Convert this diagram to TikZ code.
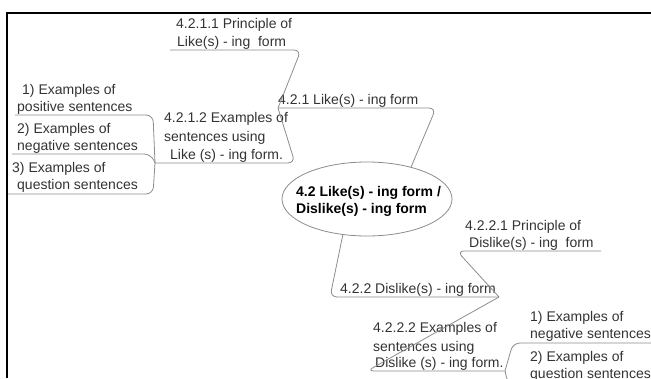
\documentclass[tikz,border=0pt]{standalone}
\usepackage{fontspec}
\setmainfont{Liberation Sans}
\usetikzlibrary{shapes.geometric}
\definecolor{textgray}{HTML}{333333}
\definecolor{linegray}{HTML}{8C8C8C}
\begin{document}
\begin{tikzpicture}[x=1pt,y=-1pt,
  txt/.style={anchor=base west, inner sep=0pt, text=textgray, font=\fontsize{14}{17}\selectfont},
  ctxt/.style={anchor=base west, inner sep=0pt, text=black, font=\fontsize{14}{17}\selectfont\bfseries},
  conn/.style={draw=linegray, line width=0.8pt, rounded corners=7pt},
  frame/.style={draw=black, line width=2.6pt}]
\useasboundingbox (0,0) rectangle (651,378);
\clip (0,0) rectangle (651,378);
% frame
\draw[frame] (7,378) -- (7,13) -- (651,13);
% central ellipse
\node[ellipse, draw=linegray, line width=0.8pt, minimum width=170pt, minimum height=74pt, inner sep=0pt] (c) at (367,199) {};
\node[ctxt] (c1) at (296,196.5) {4.2 Like(s) - ing form /};
\node[ctxt] (c2) at (296,213.5) {Dislike(s) - ing form};
% upper branch texts
\node[txt] (a1) at (278,104.5) {4.2.1 Like(s) - ing form};
\node[txt] (b1) at (176,28.5) {4.2.1.1 Principle of};
\node[txt] (b2) at (177,46.5) {Like(s) - ing\ \ form};
\node[txt] (d1) at (164,122.5) {4.2.1.2 Examples of};
\node[txt] (d2) at (164,141) {sentences using};
\node[txt] (d3) at (170,159.5) {Like (s) - ing form.};
\node[txt] (p1) at (22,94.5) {1) Examples of};
\node[txt] (p2) at (17,111.5) {positive sentences};
\node[txt] (n1) at (17,133.5) {2) Examples of};
\node[txt] (n2) at (17,150.5) {negative sentences};
\node[txt] (q1) at (12,172.5) {3) Examples of};
\node[txt] (q2) at (17,189.5) {question sentences};
% lower branch texts
\node[txt] (e1) at (340,293.5) {4.2.2 Dislike(s) - ing form};
\node[txt] (f1) at (465,230.5) {4.2.2.1 Principle of};
\node[txt] (f2) at (469,247.5) {Dislike(s) - ing\ \ form};
\node[txt] (g1) at (373,332.5) {4.2.2.2 Examples of};
\node[txt] (g2) at (373,351) {sentences using};
\node[txt] (g3) at (375,367.5) {Dislike (s) - ing form.};
\node[txt] (h1) at (530,321.5) {1) Examples of};
\node[txt] (h2) at (530,338) {negative sentences};
\node[txt] (k1) at (530,361.5) {2) Examples of};
\node[txt] (k2) at (530,378) {question sentences};
% junctions
\coordinate (j1) at (278,108);
\coordinate (j2) at (155,163);
\coordinate (j3) at (499,297);
\coordinate (j4) at (505,371);
% connectors upper
\draw[conn] (c.36) -- (436,108) -- (j1);
\draw[conn] (j1) -- (301,50) -- (170,50);
\draw[conn] (j1) -- (295,163) -- (j2);
\draw[conn] (j2) -- (153,115) -- (15,115);
\draw[conn] (j2) -- (151,154) -- (12,154);
\draw[conn] (j2) -- (153,194) -- (8,194);
% connectors lower
\draw[conn] (c.236) -- (330,297) -- (j3);
\draw[conn] (j3) -- (457,251) -- (601,251);
\draw[conn] (j3) -- (367,371) -- (j4);
\draw[conn] (j4) -- (513,343) -- (651,343);
\draw[conn] (j4) -- (508,384) -- (651,384);
\end{tikzpicture}
\end{document}
